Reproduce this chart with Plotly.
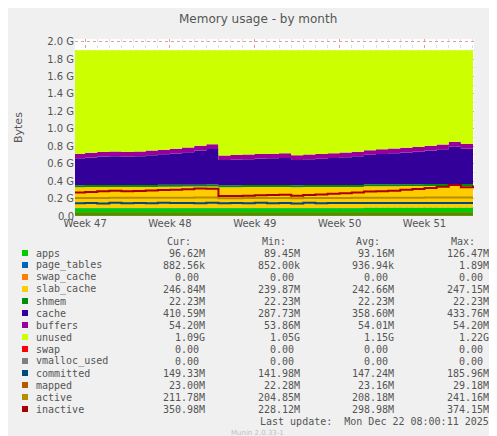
import pandas as pd
import plotly.graph_objects as go

# daily samples, Nov 16 .. Dec 19 (MB)
dates = pd.date_range("2025-11-16", periods=34, freq="D")
apps = [90] * 24 + [97] * 10
page_tables = [0.9] * 34
swap_cache = [0] * 34
slab_cache = [240, 241, 242, 242, 243, 242, 243, 244, 245, 246, 246, 247,
              240, 240, 241, 241, 242, 242, 240, 241, 241, 242, 242, 243,
              243, 244, 244, 245, 245, 246, 246, 247, 247, 247]
shmem = [22.23] * 34
cache = [308, 318, 326, 330, 324, 330, 340, 350, 360, 372, 392, 408,
         288, 292, 298, 304, 306, 310,
         290, 296, 302, 310, 318, 328, 338, 348, 356, 364, 372, 386, 400, 430,
         405, 410]
buffers = [54] * 34
total_mem = 1900

committed = [146, 150, 144, 152, 147, 149, 145, 151, 148, 150, 146, 152,
             147, 149, 145, 151, 146, 150, 144, 152, 147, 149, 148, 150,
             149, 149, 149, 149, 149, 149, 149, 149, 149, 149]
mapped = [23] * 34
active = [206, 207, 207, 208, 208, 208, 209, 209, 210, 210, 211, 212,
          205, 205, 206, 206, 206, 207, 205, 206, 206, 207, 207, 208,
          208, 209, 209, 210, 210, 211, 211, 212, 212, 212]
inactive = [270, 275, 285, 290, 285, 288, 292, 298, 302, 306, 315, 312,
            228, 230, 232, 238, 242, 245,
            232, 240, 246, 255, 262, 270, 280, 285, 290, 300, 310, 320, 335, 355,
            330, 351]

unused = [total_mem - sum(v) for v in zip(apps, page_tables, swap_cache, slab_cache, shmem, cache, buffers)]

stack = [
    ("apps", apps, "#00CC00"),
    ("page_tables", page_tables, "#0066B3"),
    ("swap_cache", swap_cache, "#FF8000"),
    ("slab_cache", slab_cache, "#FFCC00"),
    ("shmem", shmem, "#008F00"),
    ("cache", cache, "#330099"),
    ("buffers", buffers, "#990099"),
    ("unused", unused, "#CCFF00"),
]
lines = [
    ("committed", committed, "#00487D"),
    ("mapped", mapped, "#B35A00"),
    ("active", active, "#B38F00"),
    ("inactive", inactive, "#A80000"),
]

legend_rows = [
    ("apps", "#00CC00", "96.62M", "89.45M", "93.16M", "126.47M"),
    ("page_tables", "#0066B3", "882.56k", "852.00k", "936.94k", "1.89M"),
    ("swap_cache", "#FF8000", "0.00", "0.00", "0.00", "0.00"),
    ("slab_cache", "#FFCC00", "246.84M", "239.87M", "242.66M", "247.15M"),
    ("shmem", "#008F00", "22.23M", "22.23M", "22.23M", "22.23M"),
    ("cache", "#330099", "410.59M", "287.73M", "358.60M", "433.76M"),
    ("buffers", "#990099", "54.20M", "53.86M", "54.01M", "54.20M"),
    ("unused", "#CCFF00", "1.09G", "1.05G", "1.15G", "1.22G"),
    ("swap", "#FF0000", "0.00", "0.00", "0.00", "0.00"),
    ("vmalloc_used", "#808080", "0.00", "0.00", "0.00", "0.00"),
    ("committed", "#00487D", "149.33M", "141.98M", "147.24M", "185.96M"),
    ("mapped", "#B35A00", "23.00M", "22.28M", "23.16M", "29.18M"),
    ("active", "#B38F00", "211.78M", "204.85M", "208.18M", "241.16M"),
    ("inactive", "#A80000", "350.98M", "228.12M", "298.98M", "374.15M"),
]

week_ticks = pd.to_datetime(["2025-11-17", "2025-11-24", "2025-12-01", "2025-12-08", "2025-12-15"])
week_labels = ["Week 47", "Week 48", "Week 49", "Week 50", "Week 51"]

fig = go.Figure()
for name, vals, col in stack:
    fig.add_trace(go.Scatter(x=dates, y=[v / 1000 for v in vals], mode="lines", stackgroup="m",
                             line=dict(width=0, shape="hv", color=col), fillcolor=col, name=name))
for name, vals, col in lines:
    fig.add_trace(go.Scatter(x=dates, y=[v / 1000 for v in vals], mode="lines",
                             line=dict(width=2, shape="hv", color=col), name=name))

W, H = 497, 436
L, R, T, B = 67, 466, 31, 208


def px(x, y):
    return (x - L) / (R - L), (B - y) / (B - T)


mono = "DejaVu Sans Mono"
ann = []
def text(x, y, s, anchor="left", color="#555", size=10, font=mono, angle=0):
    ax, ay = px(x, y)
    ann.append(dict(x=ax, y=ay, xref="paper", yref="paper", text=s, showarrow=False,
                    xanchor=anchor, yanchor="middle", textangle=angle,
                    font=dict(family=font, size=size, color=color)))


text(250, 11, "Memory usage - by month", "center", "#555", 12, "DejaVu Sans")
text(11, 120, "Bytes", "center", "#555", 11, "DejaVu Sans", -90)
text(485, 58, "RRDTOOL / TOBI OETIKER", "center", "#c8c8c8", 7, "DejaVu Sans", 90)
for lab, xr in [("Cur:", 185), ("Min:", 280), ("Avg:", 374), ("Max:", 469)]:
    text(xr, 233, lab, "right")
shapes = []
for i, (name, col, cur, mn, avg, mx) in enumerate(legend_rows):
    y = 245 + i * 12
    x0, y0 = px(14, y - 3)
    x1, y1 = px(20, y + 3)
    shapes.append(dict(type="rect", xref="paper", yref="paper", x0=x0, x1=x1, y0=y0, y1=y1,
                       fillcolor=col, line=dict(width=0)))
    text(26, y, name)
    for v, xr in [(cur, 199), (mn, 294), (avg, 388), (mx, 483)]:
        if v == "0.00":
            xr -= 6
        text(xr, y, v, "right")
text(483, 413, "Last update:  Mon Dec 22 08:00:11 2025", "right")
text(249, 425, "Munin 2.0.33-1", "center", "#c0c0c0", 7, "DejaVu Sans")

fig.update_layout(
    width=W, height=H, showlegend=False,
    margin=dict(l=L, r=W - R, t=T, b=H - B, autoexpand=False),
    paper_bgcolor="#f0f0f0", plot_bgcolor="#ffffff",
    annotations=ann, shapes=shapes,
    font=dict(family="DejaVu Sans", size=10, color="#555"),
)
fig.update_xaxes(range=[pd.Timestamp("2025-11-16 04:00"), pd.Timestamp("2025-12-19 02:00")],
                 tickvals=week_ticks, ticktext=week_labels, showgrid=True, automargin=False,
                 gridcolor="rgba(230,130,130,0.7)", griddash="dot",
                 minor=dict(dtick=86400000, showgrid=True, gridcolor="#dddddd", griddash="dot"),
                 ticks="", ticklabelstandoff=0, showline=False, zeroline=False, tickfont=dict(size=10))
fig.update_yaxes(range=[0, 2.03], tickvals=[0, 0.2, 0.4, 0.6, 0.8, 1.0, 1.2, 1.4, 1.6, 1.8, 2.0],
                 ticktext=["0.0", "0.2 G", "0.4 G", "0.6 G", "0.8 G", "1.0 G", "1.2 G", "1.4 G", "1.6 G", "1.8 G", "2.0 G"],
                 showgrid=True, gridcolor="rgba(230,130,130,0.7)", griddash="dot", automargin=False,
                 minor=dict(dtick=0.1, showgrid=True, gridcolor="#dddddd", griddash="dot"),
                 zeroline=False, ticks="", tickfont=dict(size=10))

fig.write_html("out.html")
